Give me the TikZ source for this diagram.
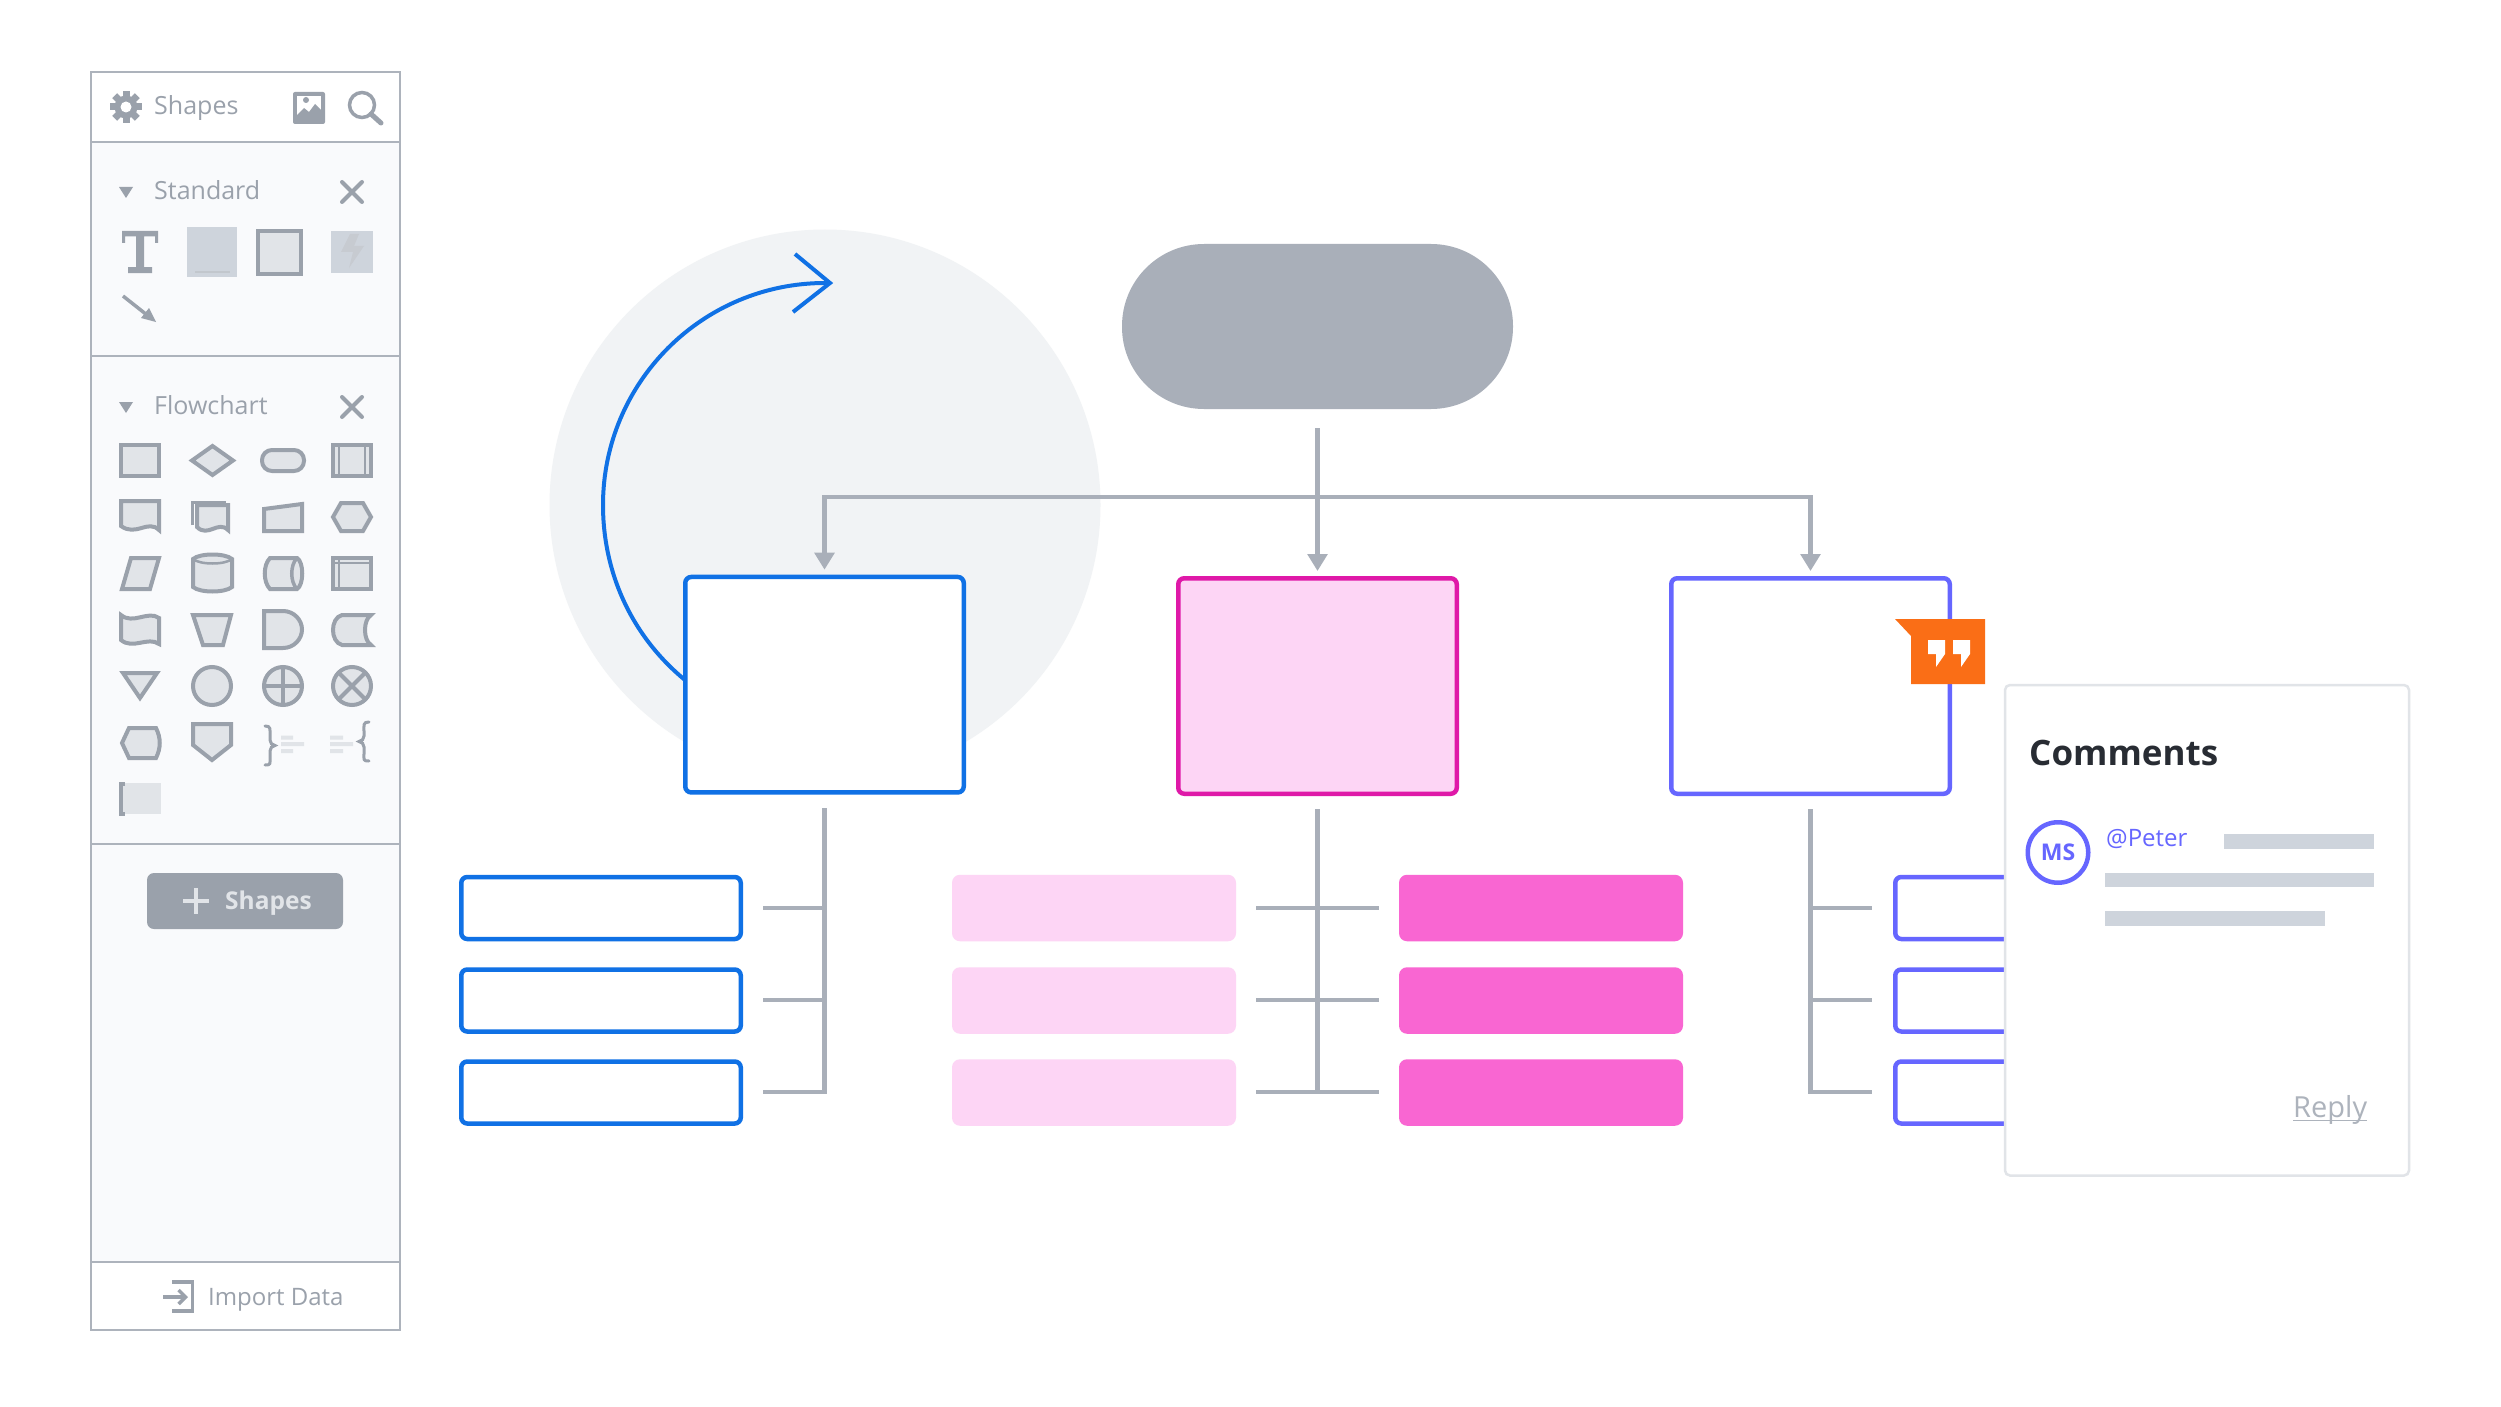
\documentclass[tikz,border=0pt]{standalone}
\usepackage{fontspec}
\setmainfont{Open Sans}
\usetikzlibrary{arrows.meta}
\definecolor{border}{HTML}{ADB3BC}
\definecolor{ink}{HTML}{9AA1AB}
\definecolor{soft}{HTML}{E1E4E8}
\definecolor{bar}{HTML}{CED4DC}
\definecolor{tint}{HTML}{F9FAFC}
\definecolor{halo}{HTML}{F1F3F5}
\definecolor{conn}{HTML}{A9AFB9}
\definecolor{blueline}{HTML}{1071E5}
\definecolor{magenta}{HTML}{DF19A8}
\definecolor{pinklight}{HTML}{FDD5F5}
\definecolor{pinkdark}{HTML}{F966D2}
\definecolor{violet}{HTML}{6666FF}
\definecolor{orange}{HTML}{FA6E16}
\definecolor{darktext}{HTML}{282C33}
\tikzset{
  x=1pt,y=-1pt,
  ic/.style={draw=ink,fill=soft,line width=4pt,line join=miter},
  icl/.style={draw=ink,line width=2.5pt},
  brace/.style={draw=ink,line width=3pt,line cap=round},
  glyph/.style={draw=ink,line width=4pt},
  lbl/.style={anchor=base west,inner sep=0pt,text=ink,font=\fontsize{25}{30}\selectfont},
  box/.style={rectangle,inner sep=0pt,rounded corners=6pt,line width=4.5pt,fill=white,minimum width=278.5pt},
  bigbox/.style={box,minimum height=215.5pt},
  sub/.style={box,minimum width=279.5pt,minimum height=62pt},
  tree/.style={draw=conn,line width=4.3pt},
  feed/.style={tree,-{Triangle[width=19.5pt,length=17pt]},shorten >=5pt},
  rowline/.style={fill=soft,draw=none},
  skel/.style={fill=bar,draw=none},
}
\begin{document}
\begin{tikzpicture}
\useasboundingbox (0,0) rectangle (2501,1407);
\fill[white] (0,0) rectangle (2501,1407);
% ---------- left panel
\fill[white] (91,72) rectangle (400,1330);
\fill[tint] (91,142) rectangle (400,1262);
\draw[border,line width=2.5pt] (91,72) rectangle (400,1330);
\draw[border,line width=2.5pt] (91,142) -- (400,142) (91,356) -- (400,356) (91,844) -- (400,844) (91,1262) -- (400,1262);
% gear
\foreach \a in {0,45,...,315}{\draw[ink,line width=7pt] (126,107) -- ++(\a:16);}
\fill[ink] (126,107) circle (11.5);
\fill[white] (126,107) circle (5.5);
\node[lbl] (t1) at (154,115) {Shapes};
% picture icon
\fill[ink,rounded corners=2pt] (293,92) rectangle (325,124);
\fill[white] (297,96) rectangle (321,115);
\fill[ink] (297,115)--(304,108)--(309,112)--(315,104)--(321,110)--(321,116)--(297,116)--cycle;
\fill[ink] (306,100) circle (3);
% search
\draw[ink,line width=3.5pt] (362,105) circle (12.5);
\draw[ink,line width=5pt,line cap=round] (371,114) -- (381,123);
% standard
\fill[ink] (119,187)--(133,187)--(126,198)--cycle;
\node[lbl] (t2) at (154,199.5) {Standard};
\draw[ink,line width=4pt,line cap=round] (342,182)--(362,202) (342,202)--(362,182);
\fill[ink] (122,231)--(158,231)--(158,243)--(155,243)--(155,236.500)--(144,236.500)--(144,267)--(152,267)--(152,273)--(128,273)--(128,267)--(136,267)--(136,236.500)--(125,236.500)--(125,243)--(122,243)--cycle;
\fill[bar] (187,227) rectangle (237,277);
\draw[ink!60,line width=1.2pt] (195,272)--(230,272);
\draw[ic] (258,231) rectangle (301,274);
\fill[bar] (331,231) rectangle (373,273);
\fill[ink!55] (350,234)--(359,234)--(354,246)--(364,246)--(349,268)--(353,252)--(341,252)--cycle;
\draw[ink,line width=3.5pt] (123,296) -- (147,315);
\fill[ink] (156,322)--(141,318)--(149,308)--cycle;
% flowchart
\fill[ink] (119,402)--(133,402)--(126,413)--cycle;
\node[lbl] (t3) at (154,414.5) {Flowchart};
\draw[ink,line width=4pt,line cap=round] (342,397)--(362,417) (342,417)--(362,397);
% row 1
\draw[ic] (121,445) rectangle (159,476);
\draw[ic] (192,460.5)--(212.5,446)--(233,460.5)--(212.5,475)--cycle;
\draw[ic,rounded corners=10pt] (262,450) rectangle (304,471);
\draw[ic] (333,445) rectangle (371,476);
\draw[icl] (339,445)--(339,476) (365,445)--(365,476);
% row 2
\draw[ic] (121,501)--(159,501)--(159,530) .. controls (148,519) and (136,537) .. (121,526) --cycle;
\draw[ic] (197,505)--(228,505)--(228,530) .. controls (218,520) and (208,538) .. (197,527) --cycle;
\draw[icl,line width=3pt] (192.500,525)--(192.500,502)--(226,502);
\draw[ic] (264,509)--(302,504)--(302,531)--(264,531)--cycle;
\draw[ic] (333,517)--(341,503)--(363,503)--(371,517)--(363,531)--(341,531)--cycle;
% row 3
\draw[ic] (122,589)--(131,558)--(159,558)--(150,589)--cycle;
\draw[ic] (193,559) -- (193,587) .. controls (200,593) and (225,593) .. (232,587) -- (232,559) .. controls (225,553) and (200,553) .. (193,559) -- cycle;
\draw[icl] (193,559) .. controls (200,565) and (225,565) .. (232,559);
\draw[ic] (270,558)--(297,558) .. controls (304,562) and (304,585) .. (297,589) -- (270,589) .. controls (263,582) and (263,565) .. (270,558) --cycle;
\draw[icl,line width=3.5pt] (297,558) .. controls (290,565) and (290,582) .. (297,589);
\draw[ic] (333,558) rectangle (371,589);
\draw[icl] (339,558)--(339,589) (333,563)--(371,563);
% row 4
\draw[ic] (121,615) .. controls (133,625) and (148,610) .. (159,618) -- (159,644) .. controls (148,636) and (133,650) .. (121,640) --cycle;
\draw[ic] (193,615)--(231,615)--(223,645)--(203,645)--cycle;
\draw[ic] (264,611)--(283,611) .. controls (294,611) and (302,620) .. (302,629.5) .. controls (302,639) and (294,648) .. (283,648) -- (264,648) --cycle;
\draw[ic] (371,615)--(342,615) .. controls (330,618) and (330,642) .. (342,645) -- (371,645) .. controls (363,640) and (363,620) .. (371,615) --cycle;
% row 5
\draw[ic] (123,673)--(157,673)--(140,698)--cycle;
\draw[ic] (212,686) circle (19);
\draw[ic] (283,686) circle (19);
\draw[glyph] (264,686)--(302,686) (283,667)--(283,705);
\draw[ic] (352,686) circle (19);
\draw[glyph] (338.600,672.600)--(365.400,699.400) (338.600,699.400)--(365.400,672.600);
% row 6
\draw[ic] (129,728)--(156,728) .. controls (161,738) and (161,748) .. (156,758) -- (129,758) -- (122,743) --cycle;
\draw[ic] (193,724)--(231,724)--(231,745)--(212,760)--(193,745)--cycle;
\draw[brace] (265,726) .. controls (271,726) and (270,729) .. (270,735) -- (270,740) .. controls (270,743) and (272,745) .. (275,745.5) .. controls (272,746) and (270,748) .. (270,751) -- (270,758) .. controls (270,764) and (271,765) .. (265,765);
\fill[rowline] (281,735.500) rectangle (293,739.500) (281,742) rectangle (304,746) (281,749) rectangle (293,753);
\fill[rowline] (330,735.500) rectangle (343,739.500) (330,742) rectangle (353,746) (330,749) rectangle (343,753);
\draw[brace] (369,722) .. controls (363,722) and (364,725) .. (364,731) -- (364,736) .. controls (364,739) and (362,741) .. (359,741.5) .. controls (362,742) and (364,744) .. (364,747) -- (364,754) .. controls (364,760) and (363,761) .. (369,761);
% row 7
\fill[soft] (123,783) rectangle (161,814);
\draw[ink,line width=4pt] (125,784)--(121,784)--(121,814)--(125,814);
% button
\fill[ink,rounded corners=7pt] (147,873) rectangle (343,929);
\draw[soft,line width=3.5pt] (183,901)--(209,901) (196,888)--(196,914);
\node[lbl,text=soft,font=\fontsize{24.5}{30}\selectfont\bfseries] (t4) at (225,909.500) {Shapes};
% import
\draw[ink,line width=3.5pt] (172,1282)--(192.500,1282)--(192.500,1311)--(172,1311);
\draw[ink,line width=3.5pt,-{Straight Barb[length=7pt,width=14pt]}] (163,1297)--(188,1297);
\node[lbl,font=\fontsize{24}{30}\selectfont] (t5) at (208,1305) {Import Data};
% ---------- main diagram
\fill[halo] (825,505) circle (275.5);
\node[fill=conn,rounded corners=82pt,inner sep=0pt,minimum width=391pt,minimum height=165pt] (term) at (1317.500,326.500) {};
\node[bigbox,draw=blueline] (blue) at (824.500,684.700) {};
\node[bigbox,draw=magenta,fill=pinklight] (pink) at (1317.500,686) {};
\node[bigbox,draw=violet] (purple) at (1810.500,686) {};
% curved arrow from the blue box
\coordinate (arcstart) at (685,680);
\coordinate (arcend) at (830,283);
\coordinate (barbtop) at (795,254);
\coordinate (barbbot) at (793,312);
\draw[blueline,line width=4pt] (arcstart) .. controls (631,635.5) and (603,572) .. (603,505) .. controls (603,382.4) and (702.4,283) .. (825,283) -- (arcend);
\draw[blueline,line width=4pt,line join=miter] (barbtop) -- (arcend) -- (barbbot);
% feeds
\coordinate (bus) at (term.south |- 0,497);
\draw[tree,shorten <=19pt] (term.south) -- (bus);
\draw[feed] (bus) -| (blue.north);
\draw[feed] (bus) -- (pink.north);
\draw[feed] (bus) -| (purple.north);
% children: blue
\node[sub,draw=blueline] (b1) at (601,908) {};
\node[sub,draw=blueline] (b2) at (601,1000.500) {};
\node[sub,draw=blueline] (b3) at (601,1092.500) {};
\coordinate (ba1) at (763,908); \coordinate (ba2) at (763,1000); \coordinate (ba3) at (763,1092);
\draw[tree,shorten <=13.500pt] (blue.south) |- (ba3);
\draw[tree] (blue.south |- ba1) -- (ba1);
\draw[tree] (blue.south |- ba2) -- (ba2);
% children: pink
\foreach \n/\y in {1/908,2/1000.500,3/1092.500}{
  \node[box,minimum width=284pt,minimum height=66.5pt,draw=none,fill=pinklight,rounded corners=8pt] (pl\n) at (1094,\y) {};
  \node[box,minimum width=284pt,minimum height=66.5pt,draw=none,fill=pinkdark,rounded corners=8pt] (pd\n) at (1541,\y) {};
}
\coordinate (pa1) at (1256,908); \coordinate (pa2) at (1256,1000); \coordinate (pa3) at (1256,1092);
\coordinate (pb1) at (1379,908); \coordinate (pb2) at (1379,1000); \coordinate (pb3) at (1379,1092);
\draw[tree,shorten <=13pt] (pink.south) -- (pink.south |- pa3);
\draw[tree] (pa1)--(pb1);
\draw[tree] (pa2)--(pb2);
\draw[tree] (pa3)--(pb3);
% children: violet
\node[sub,draw=violet] (v1) at (2035,908) {};
\node[sub,draw=violet] (v2) at (2035,1000.500) {};
\node[sub,draw=violet] (v3) at (2035,1092.500) {};
\coordinate (va1) at (1872,908); \coordinate (va2) at (1872,1000); \coordinate (va3) at (1872,1092);
\draw[tree,shorten <=13pt] (purple.south) |- (va3);
\draw[tree] (purple.south |- va1) -- (va1);
\draw[tree] (purple.south |- va2) -- (va2);
% comment flag
\fill[orange] (1895,619)--(1985,619)--(1985,684)--(1911,684)--(1911,636)--cycle;
\fill[white] (1928,640)--(1945,640)--(1945,654)--(1936,667)--(1936,654)--(1928,654)--cycle;
\fill[white] (1953,640)--(1970,640)--(1970,654)--(1961,667)--(1961,654)--(1953,654)--cycle;
% comments panel
\draw[soft,fill=white,line width=2.5pt,rounded corners=5pt] (2005,685) rectangle (2409,1175.500);
\node[lbl,text=darktext,font=\fontsize{35}{40}\selectfont\bfseries] (ct) at (2029,765.500) {Comments};
\node[circle,draw=violet,fill=white,line width=4.5pt,inner sep=0pt,minimum size=60.5pt,text=violet,font=\fontsize{23}{28}\selectfont\bfseries] (ms) at (2058,852.500) {MS};
\node[lbl,text=violet,font=\fontsize{24}{30}\selectfont] (pt) at (2106,846) {@Peter};
\fill[skel] (2224,834) rectangle (2374,849);
\fill[skel] (2105,872.500) rectangle (2374,887);
\fill[skel] (2105,911) rectangle (2325,926);
\node[lbl,text=border,font=\fontsize{29}{34}\selectfont] (rp) at (2293,1117) {Reply};
\draw[border,line width=1.5pt] (2293,1120.500)--(2367,1120.500);
\end{tikzpicture}
\end{document}
